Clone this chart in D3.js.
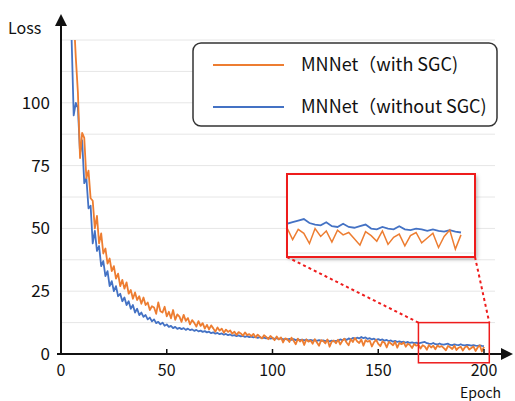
<!DOCTYPE html>
<html><head><meta charset="utf-8">
<script src="https://cdn.jsdelivr.net/npm/d3@7"></script>
<style>body{margin:0;background:#fff}svg{display:block}</style>
</head><body>
<svg id="c" width="515" height="401"></svg>
<script>
const seriesNames = ["MNNet（with SGC)", "MNNet（without SGC)"];
const yTicks = [0, 25, 50, 75, 100];
const xTicks = [0, 50, 100, 150, 200];
const gridValues = [12.5, 25, 37.5, 50, 62.5, 75, 87.5, 100, 112.5, 125];
const withSGC = [
200,190,180,170,150,135,118,104,78,88,
86,70,73,62,61,50,55,44,48,40,
42,36,38,33,35,30,32,27,29.5,
26,28.5,24,25.5,22,24.5,21.5,23,20,22.5,
19.5,20.5,17.5,19,18.5,16,20.5,17,16.5,18.8,
15,16.8,14.2,17.5,13.6,15.8,14.9,12.8,15.6,13.2,
14.3,11.8,13.5,12.4,10.9,13.1,11.2,12.3,10.1,11.6,
9.8,11.4,10.2,8.9,10.6,9.3,10.1,8.5,9.7,8.8,
9.4,8.1,8.9,7.6,8.7,8.2,7.3,8.6,7.5,7.9,
7.1,8.0,6.6,7.7,6.9,6.2,7.5,6.8,5.9,7.2,
6.4,5.5,7.0,5.8,6.6,4.6,6.2,5.9,4.8,6.5,
5.3,3.9,6.1,5.0,5.7,3.6,5.8,4.9,5.4,4.1,
5.9,4.6,3.3,5.5,5.1,4.2,5.8,2.9,4.9,5.4,
4.3,5.7,3.8,5.2,6.1,4.6,3.5,5.9,4.8,6.4,
5.1,4.4,5.8,3.3,5.5,4.9,5.3,3.0,4.7,5.6,
4.0,3.1,5.0,4.5,2.6,4.8,4.2,3.5,4.9,2.5,
4.4,3.9,4.6,2.9,4.1,3.6,2.4,4.0,3.3,3.7,
2.2,3.5,3.0,1.7,3.6,2.6,3.3,1.9,3.4,2.8,
3.1,2.3,1.5,3.2,2.7,2.0,3.3,1.6,2.5,2.9,
1.4,2.7,3.1,1.8,2.4,3.0,1.2,2.6,3.4,1.0,
2.8];
const withoutSGC = [
180,170,160,140,126,95,100,98,80,85,
68,70,58,59,44,49,41,43,35,37,
31,33,27,29,25,27,23,24,21,22.5,
19.5,21,18,19.5,16.5,18,15.5,16.5,14.8,15.5,
13.8,14.5,13,13.8,12.3,12.8,11.8,12.5,11.2,11.8,
10.8,11.2,10.3,10.8,10,10.4,9.9,10.3,9.6,10.1,
9.5,9.8,9.2,9.6,9.0,9.3,8.8,9.1,8.6,8.9,
8.3,8.6,8.1,8.4,7.9,8.2,7.7,8.0,7.5,7.8,
7.3,7.5,7.1,7.4,7.0,7.2,6.8,7.1,6.7,6.9,
6.6,6.8,6.4,6.7,6.3,6.5,6.2,6.4,6.1,6.3,
6.0,6.3,5.9,6.2,5.8,6.0,5.7,6.0,5.6,5.9,
5.5,5.8,5.5,5.7,5.4,5.7,5.3,5.6,5.3,5.5,
5.2,5.5,5.2,5.4,5.1,5.4,5.0,5.3,5.0,5.2,
5.3,5.8,5.5,6.0,5.6,6.2,5.8,6.4,6.0,6.5,
6.2,6.8,6.3,6.6,6.0,6.3,5.8,6.1,5.6,5.9,
5.5,5.8,5.3,5.6,5.1,5.4,4.9,5.2,4.8,5.0,
4.7,4.9,4.5,4.8,4.4,4.6,4.3,4.5,4.2,4.4,
4.6,4.8,4.3,4.1,4.0,4.4,3.9,3.8,4.2,3.8,
3.7,3.9,4.1,3.6,3.5,3.8,3.6,3.5,3.9,3.5,
3.4,3.6,3.5,3.3,3.5,3.3,3.2,3.4,3.2,3.1];
const epochs = d3.range(1, 201);
const colors = ["#ED7D31", "#4472C4"];
const zoomRange = [169, 202.5];   // epochs shown in the inset
const zoomValues = [-3.5, 12.5];  // loss range of the small red box
const insetValues = [0, 10.5];

const svg = d3.select("#c");
const font = "'Noto Sans CJK SC','Noto Sans',sans-serif";
const x = d3.scaleLinear().domain([0, 200]).range([61, 484]);
const y = d3.scaleLinear().domain([0, 125]).range([354, 40]);

// grid
svg.append("g").selectAll("line").data(gridValues).join("line")
  .attr("x1", x(0)).attr("x2", 495).attr("y1", d => y(d)).attr("y2", d => y(d))
  .attr("stroke", "#e6e6e6").attr("stroke-width", 1);

// clip
svg.append("clipPath").attr("id", "plot").append("rect")
  .attr("x", x(0)).attr("y", y(125)).attr("width", 450).attr("height", y(0) - y(125) + 10);

const line = d3.line().x((d, i) => x(epochs[i])).y(d => y(d));
const gl = svg.append("g").attr("clip-path", "url(#plot)");
gl.append("path").datum(withoutSGC).attr("d", line).attr("fill", "none")
  .attr("stroke", colors[1]).attr("stroke-width", 1.8).attr("stroke-linejoin", "round");
gl.append("path").datum(withSGC).attr("d", line).attr("fill", "none")
  .attr("stroke", colors[0]).attr("stroke-width", 1.8).attr("stroke-linejoin", "round");

// axes
const defs = svg.append("defs");
defs.append("marker").attr("id", "arr").attr("viewBox", "0 0 10 10").attr("refX", 5).attr("refY", 5)
  .attr("markerWidth", 6).attr("markerHeight", 6).attr("orient", "auto-start-reverse")
  .append("path").attr("d", "M0,0 L10,5 L0,10 z").attr("fill", "#111");
svg.append("line").attr("x1", x(0)).attr("y1", y(0) + 1).attr("x2", x(0)).attr("y2", 20)
  .attr("stroke", "#111").attr("stroke-width", 2).attr("marker-end", "url(#arr)");
svg.append("line").attr("x1", x(0) - 4).attr("y1", y(0)).attr("x2", 507).attr("y2", y(0))
  .attr("stroke", "#111").attr("stroke-width", 2).attr("marker-end", "url(#arr)");
svg.append("g").selectAll("line").data(xTicks.slice(1)).join("line")
  .attr("x1", d => x(d)).attr("x2", d => x(d)).attr("y1", y(0)).attr("y2", y(0) - 5)
  .attr("stroke", "#111").attr("stroke-width", 1.5);

svg.append("g").selectAll("text").data(yTicks).join("text")
  .attr("x", 50).attr("y", d => y(d) + 6).attr("text-anchor", "end")
  .attr("font-family", font).attr("font-size", 17).attr("fill", "#111").text(d => d);
svg.append("g").selectAll("text").data(xTicks).join("text")
  .attr("x", d => x(d)).attr("y", 376).attr("text-anchor", "middle")
  .attr("font-family", font).attr("font-size", 16).attr("fill", "#111").text(d => d);
svg.append("text").attr("x", 8).attr("y", 34).attr("font-family", font).attr("font-size", 16)
  .attr("fill", "#111").text("Loss");
svg.append("text").attr("x", 460).attr("y", 398).attr("font-family", font).attr("font-size", 14)
  .attr("fill", "#111").text("Epoch");

// legend
svg.append("rect").attr("x", 193).attr("y", 43).attr("width", 304).attr("height", 83)
  .attr("rx", 8).attr("fill", "#fff").attr("stroke", "#333").attr("stroke-width", 1.5);
seriesNames.forEach((n, i) => {
  const ly = 65 + i * 42;
  svg.append("line").attr("x1", 213).attr("x2", 284).attr("y1", ly).attr("y2", ly)
    .attr("stroke", colors[i]).attr("stroke-width", 2.2);
  svg.append("text").attr("x", 301).attr("y", ly + 6).attr("font-family", font)
    .attr("font-size", 18).attr("fill", "#111").text(n);
});

// small red box
const bx0 = x(zoomRange[0]), bx1 = x(zoomRange[1]);
const by0 = y(zoomValues[1]), by1 = y(zoomValues[0]);
svg.append("rect").attr("x", bx0).attr("y", by0).attr("width", bx1 - bx0).attr("height", by1 - by0)
  .attr("fill", "none").attr("stroke", "#ee1c1c").attr("stroke-width", 1.5);

// inset
const ix0 = 287, ix1 = 475, iy0 = 174, iy1 = 257;
defs.append("filter").attr("id", "sh").attr("x", "-10%").attr("y", "-10%").attr("width", "130%").attr("height", "140%")
  .append("feDropShadow").attr("dx", 2).attr("dy", 2).attr("stdDeviation", 2).attr("flood-color", "#000").attr("flood-opacity", 0.3);
svg.append("rect").attr("x", ix0).attr("y", iy0).attr("width", ix1 - ix0).attr("height", iy1 - iy0)
  .attr("fill", "#fff").attr("filter", "url(#sh)");
const xi = d3.scaleLinear().domain(zoomRange).range([ix0, ix0 + 188]);
const yi = d3.scaleLinear().domain(insetValues).range([iy1, iy0]);
svg.append("line").attr("x1", ix0).attr("x2", ix1).attr("y1", iy1 - 4).attr("y2", iy1 - 4)
  .attr("stroke", "#e6e6e6");
svg.append("clipPath").attr("id", "ins").append("rect")
  .attr("x", ix0).attr("y", iy0).attr("width", ix1 - ix0).attr("height", iy1 - iy0);
const li = d3.line().defined((d, i) => epochs[i] >= zoomRange[0] - 1).x((d, i) => xi(epochs[i])).y(d => yi(d));
const gi = svg.append("g").attr("clip-path", "url(#ins)");
gi.append("path").datum(withoutSGC).attr("d", li).attr("fill", "none").attr("stroke", colors[1]).attr("stroke-width", 1.8);
gi.append("path").datum(withSGC).attr("d", li).attr("fill", "none").attr("stroke", colors[0]).attr("stroke-width", 1.5);
svg.append("rect").attr("x", ix0).attr("y", iy0).attr("width", ix1 - ix0).attr("height", iy1 - iy0)
  .attr("fill", "none").attr("stroke", "#ee1c1c").attr("stroke-width", 2);

// connector dashes
[[ix0, bx0], [ix1, bx1]].forEach(([a, b]) => {
  svg.append("line").attr("x1", a).attr("y1", iy1).attr("x2", b).attr("y2", by0)
    .attr("stroke", "#ee1c1c").attr("stroke-width", 2).attr("stroke-dasharray", "3,3");
});
</script>
</body></html>
